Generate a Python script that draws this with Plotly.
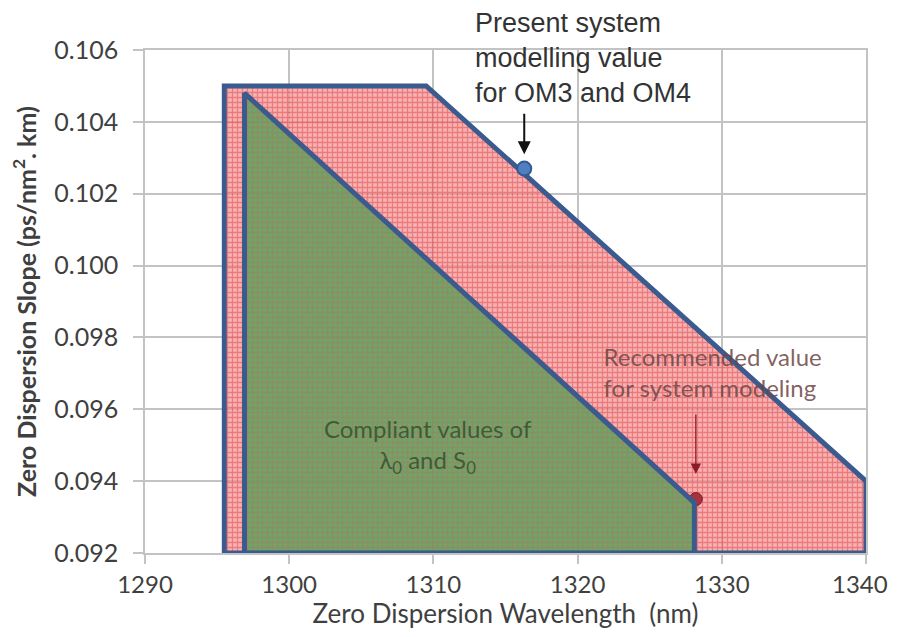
import plotly.graph_objects as go

# ---- data ----
red_x = [1295.5, 1295.5, 1309.5, 1340.0, 1340.0, 1295.5]
red_y = [0.092, 0.105, 0.105, 0.094, 0.092, 0.092]
green_x = [1296.9, 1296.9, 1328.1, 1328.1, 1296.9]
green_y = [0.092, 0.1048, 0.0934, 0.092, 0.092]
present_x = [1316.3]
present_y = [0.1027]
recommended_x = [1328.2]
recommended_y = [0.0935]

x_ticks = [1290, 1300, 1310, 1320, 1330, 1340]
# last label padded so it is not clipped at the window edge
x_tick_labels = ["1290", "1300", "1310", "1320", "1330", "1340\u00a0\u00a0"]
y_ticks = [0.092, 0.094, 0.096, 0.098, 0.100, 0.102, 0.104, 0.106]

present_label = "Present system<br>modelling value<br>for OM3 and OM4"
recommended_label = "Recommended value<br>for system modeling"
compliant_label = "Compliant values of<br>λ<sub>0</sub> and S<sub>0</sub>"

rec_text_pos = (1321.8, 0.09695)
comp_text_pos = (1309.6, 0.09493)

BORDER = "#3b5a8e"
TXT = "#3f3f3f"
GRID = "#c3c3c3"

fig = go.Figure()

# red region
fig.add_trace(go.Scatter(
    x=red_x, y=red_y, mode="lines", fill="toself",
    fillpattern=dict(shape="+", size=5, solidity=0.45,
                     bgcolor="rgba(244,150,150,0.72)",
                     fgcolor="rgba(212,20,30,0.72)"),
    line=dict(color=BORDER, width=5),
    hoverinfo="skip", showlegend=False))

# recommended value marker (partly under green border)
fig.add_trace(go.Scatter(
    x=recommended_x, y=recommended_y, mode="markers",
    marker=dict(size=13, color="#a8303f", line=dict(color="#7a1f2a", width=1)),
    hoverinfo="skip", showlegend=False))

# green region
fig.add_trace(go.Scatter(
    x=green_x, y=green_y, mode="lines", fill="toself",
    fillpattern=dict(shape="+", size=5, solidity=0.4,
                     bgcolor="rgba(88,160,88,0.84)",
                     fgcolor="rgba(185,118,108,0.84)"),
    line=dict(color=BORDER, width=5),
    hoverinfo="skip", showlegend=False))

# region labels
fig.add_trace(go.Scatter(
    x=[rec_text_pos[0]], y=[rec_text_pos[1]], mode="text",
    text=[recommended_label], textposition="middle right",
    textfont=dict(family="Lato", size=24, color="rgba(110,70,70,0.85)"),
    hoverinfo="skip", showlegend=False))
fig.add_trace(go.Scatter(
    x=[comp_text_pos[0]], y=[comp_text_pos[1]], mode="text",
    text=[compliant_label], textposition="middle center",
    textfont=dict(family="Lato", size=24, color="rgba(45,70,40,0.75)"),
    hoverinfo="skip", showlegend=False))

# present system modelling value
fig.add_trace(go.Scatter(
    x=present_x, y=present_y, mode="markers",
    marker=dict(size=14, color="#4f7fc0", line=dict(color="#345a94", width=2)),
    hoverinfo="skip", showlegend=False))

fig.add_annotation(
    x=1312.75, y=0.985, xref="x", yref="paper", text=present_label,
    showarrow=False, xanchor="left", yanchor="middle", align="left",
    font=dict(family="Liberation Sans", size=27, color="#333333"))
fig.add_annotation(
    x=present_x[0], y=0.1031, ax=present_x[0], ay=0.10427,
    xref="x", yref="y", axref="x", ayref="y", text="",
    showarrow=True, arrowhead=2, arrowsize=1.3, arrowwidth=2, arrowcolor="#111111")
fig.add_annotation(
    x=recommended_x[0], y=0.0942, ax=recommended_x[0], ay=0.0959,
    xref="x", yref="y", axref="x", ayref="y", text="",
    showarrow=True, arrowhead=2, arrowsize=1.6, arrowwidth=1.3, arrowcolor="#8b1a2a")

fig.update_xaxes(
    range=[1290, 1340], tickvals=x_ticks, ticktext=x_tick_labels,
    showgrid=True, gridcolor=GRID, gridwidth=1.5,
    showline=True, linecolor=GRID, linewidth=1.5, mirror=True,
    ticks="outside", ticklen=9, tickcolor=GRID, tickwidth=1.5,
    zeroline=False, ticklabeloverflow="allow",
    tickfont=dict(family="Lato", size=24, color=TXT),
    title=dict(text="Zero Dispersion Wavelength  (nm)", standoff=9,
               font=dict(family="Lato", size=26, color=TXT)))
fig.update_yaxes(
    range=[0.092, 0.106], tickvals=y_ticks, ticktext=[f"{v:.3f}" for v in y_ticks],
    showgrid=True, gridcolor=GRID, gridwidth=1.5,
    showline=True, linecolor=GRID, linewidth=1.5, mirror=True,
    ticks="outside", ticklen=10, tickcolor=GRID, tickwidth=1.5,
    zeroline=False, ticklabelstandoff=10,
    tickfont=dict(family="Lato", size=25, color=TXT),
    title=dict(text="Zero Dispersion Slope (ps/nm<sup>2</sup>. km)", standoff=20,
               font=dict(family="Lato", size=25, color=TXT, weight="bold")))

# page body has an 8px margin, so the figure is sized to fit inside the window
fig.update_layout(
    width=881, height=621,
    margin=dict(l=137, r=23, t=42, b=76, autoexpand=False),
    paper_bgcolor="white", plot_bgcolor="white",
    font=dict(family="Lato", color=TXT),
    showlegend=False)

fig.write_html("out.html")
